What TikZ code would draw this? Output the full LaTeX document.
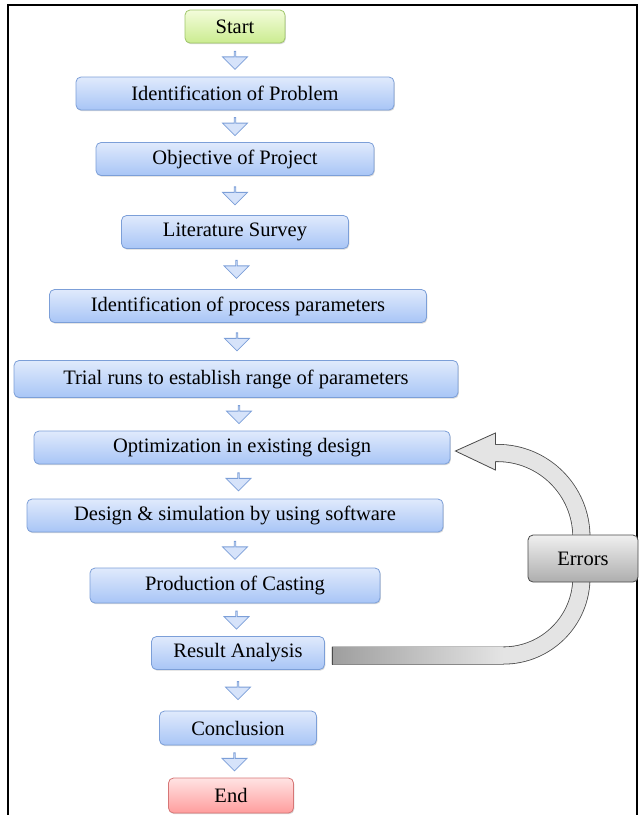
\documentclass[tikz,border=0pt]{standalone}
\usepackage{fontspec}
\setmainfont{Liberation Serif}
\usetikzlibrary{positioning,calc,shapes.arrows,shadows}

\definecolor{boxtop}{HTML}{E0EAFC}
\definecolor{boxbot}{HTML}{A8C5F6}
\definecolor{boxline}{HTML}{7C9FD8}
\definecolor{starttop}{HTML}{F3FCDB}
\definecolor{startbot}{HTML}{CBEC90}
\definecolor{startline}{HTML}{9FC66A}
\definecolor{endtop}{HTML}{FFE3E3}
\definecolor{endbot}{HTML}{FF9D9D}
\definecolor{endline}{HTML}{D67676}
\definecolor{arrfill}{HTML}{D6E3FA}
\definecolor{errline}{HTML}{4A4A4A}
\definecolor{errfill}{HTML}{E4E4E4}

\tikzstyle{proc} = [draw=boxline, line width=.8pt, rectangle, rounded corners=5pt, top color=boxtop, bottom color=boxbot, minimum height=33pt, drop shadow={shadow xshift=.8pt, shadow yshift=-1.2pt, fill=black!30}, font=\fontsize{20.5}{23}\selectfont]
\tikzstyle{term} = [proc]
\tikzstyle{darr} = [single arrow, rotate=-90, draw=boxline, fill=arrfill, line width=.8pt, minimum width=25pt, minimum height=18pt, single arrow head extend=6.5pt, inner sep=0pt]
\tikzstyle{errbox} = [draw=errline, line width=.8pt, rectangle, rounded corners=5pt, top color=black!6, bottom color=black!32, minimum width=110pt, minimum height=47pt, font=\fontsize{20.5}{23}\selectfont]

\begin{document}
\begin{tikzpicture}[x=1pt, y=1pt, node distance=70pt]
  \useasboundingbox (0,0) rectangle (640,-815);
  \draw[line width=1.4pt] (8,-5) rectangle (637,-830);

  % main flow
  \node[term, top color=starttop, bottom color=startbot, draw=startline, minimum width=100pt] (start) at (235,-26.5) {Start};
  \node[proc, minimum width=318pt, below of=start, node distance=67pt] (prob) {Identification of Problem};
  \node[proc, minimum width=278pt, below of=prob, node distance=65.5pt] (obj) {Objective of Project};
  \node[proc, minimum width=227pt, below of=obj, node distance=73pt] (lit) {Literature Survey};
  \node[proc, minimum width=377pt, below of=lit, node distance=74pt, xshift=3pt] (param) {Identification of process parameters};
  \node[proc, minimum width=444pt, minimum height=37pt, below of=param, node distance=73pt, xshift=-2pt] (trial) {Trial runs to establish range of parameters};
  \node[proc, minimum width=416pt, below of=trial, node distance=68.5pt, xshift=6pt] (opt) {Optimization in existing design};
  \node[proc, minimum width=416pt, below of=opt, node distance=68pt, xshift=-7pt] (des) {Design \& simulation by using software};
  \node[proc, minimum width=290pt, minimum height=35pt, below of=des, node distance=70pt] (prod) {Production of Casting};
  \node[proc, minimum width=173pt, below of=prod, node distance=67.5pt, xshift=3pt] (res) {Result Analysis};
  \node[proc, minimum width=157pt, minimum height=34pt, below of=res, node distance=75pt] (concl) {Conclusion};
  \node[term, top color=endtop, bottom color=endbot, draw=endline, minimum width=125pt, minimum height=35pt, below of=concl, node distance=67.5pt, xshift=-7pt] (finish) {End};

  \foreach \a/\b [count=\i] in {start/prob,prob/obj,obj/lit,lit/param,param/trial,trial/opt,opt/des,des/prod,prod/res,res/concl,concl/finish}
    \node[darr] (arr\i) at ($(\a.south)!.5!(\b.north)$) {};

  % feedback arrow
  \coordinate (e0) at ($(res.east)+(7,-2.5)$);
  \coordinate (e1) at ($(opt.east)+(5,-3.5)$);
  \draw[line width=18pt, draw=errline, postaction={draw=errfill, line width=16.4pt}]
    (e0) -- ++(171.5,0) arc[start angle=-90, end angle=0, radius=78]
    -- ++(0,40.5) arc[start angle=0, end angle=90, radius=84] -- ++(-3,0);
  \shade[left color=black!38, right color=errfill] ($(e0)+(0,8.2)$) rectangle ++(171.5,-16.4);
  \draw[errline, line width=.8pt] ($(e0)+(0,9)$) -- ($(e0)+(0,-9)$);
  \fill[errfill] (e1) -- ++(40,18) -- ++(0,-37) -- cycle;
  \draw[errline, line width=.8pt, line join=miter] ($(e1)+(40,6.5)$) -- ++(0,11.5) -- (e1) -- ++(40,-19) -- ++(0,8.5);
  \node[errbox] (err) at (583,-558.5) {Errors};
\end{tikzpicture}
\end{document}
